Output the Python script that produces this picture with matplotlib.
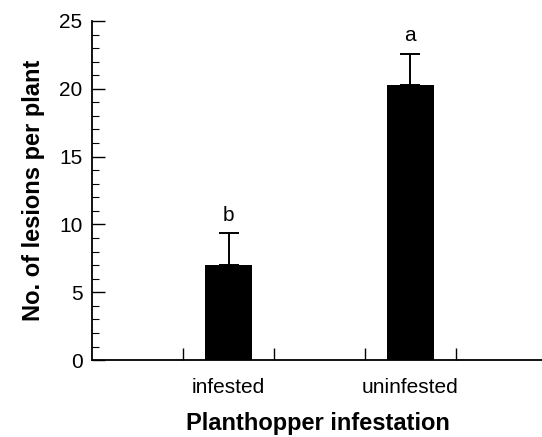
import numpy as np
import matplotlib.pyplot as plt

plt.rcParams['font.family'] = ['Liberation Sans', 'DejaVu Sans']

# data
groups = ['infested', 'uninfested']
positions = [1.5, 3.5]
lesions = [7.0, 20.3]
errors = [2.35, 2.3]
letters = ['b', 'a']

fig = plt.figure(figsize=(5.42, 4.37), dpi=100)
ax = fig.add_axes([0.170, 0.176, 0.832, 0.776])

ax.bar(positions, lesions, width=0.52, color='black', linewidth=0, zorder=2)
ax.errorbar(positions, lesions, yerr=[np.zeros(len(errors)), errors],
            fmt='none', ecolor='black', elinewidth=1.4, capsize=7, capthick=1.4, zorder=3)
for x, y, e, s in zip(positions, lesions, errors, letters):
    ax.text(x, y + e + 1.3, s, ha='center', va='center', fontsize=15)

ax.set_xlim(0, 4.96)
ax.set_ylim(0, 25)
ax.spines['top'].set_visible(False)
ax.spines['right'].set_visible(False)
ax.spines['left'].set_linewidth(1.3)
ax.spines['bottom'].set_linewidth(1.3)

ax.set_yticks(np.arange(0, 26, 5))
ax.set_yticks(np.arange(0, 26, 1), minor=True)
ax.tick_params(axis='y', which='major', direction='in', length=9, width=1.0, labelsize=15, pad=7)
ax.tick_params(axis='y', which='minor', direction='in', length=5, width=0.8)

ax.set_xticks([1, 2, 3, 4])
ax.set_xticklabels([])
ax.set_xticks(positions, minor=True)
ax.set_xticklabels(groups, minor=True)
ax.tick_params(axis='x', which='major', direction='in', length=9, width=1.0)
ax.tick_params(axis='x', which='minor', length=0, labelsize=15, pad=13)

ax.set_xlabel('Planthopper infestation', fontsize=17, fontweight='bold', labelpad=11)
ax.set_ylabel('No. of lesions per plant', fontsize=17, fontweight='bold', labelpad=10)

fig.savefig('out.png', dpi=100)
